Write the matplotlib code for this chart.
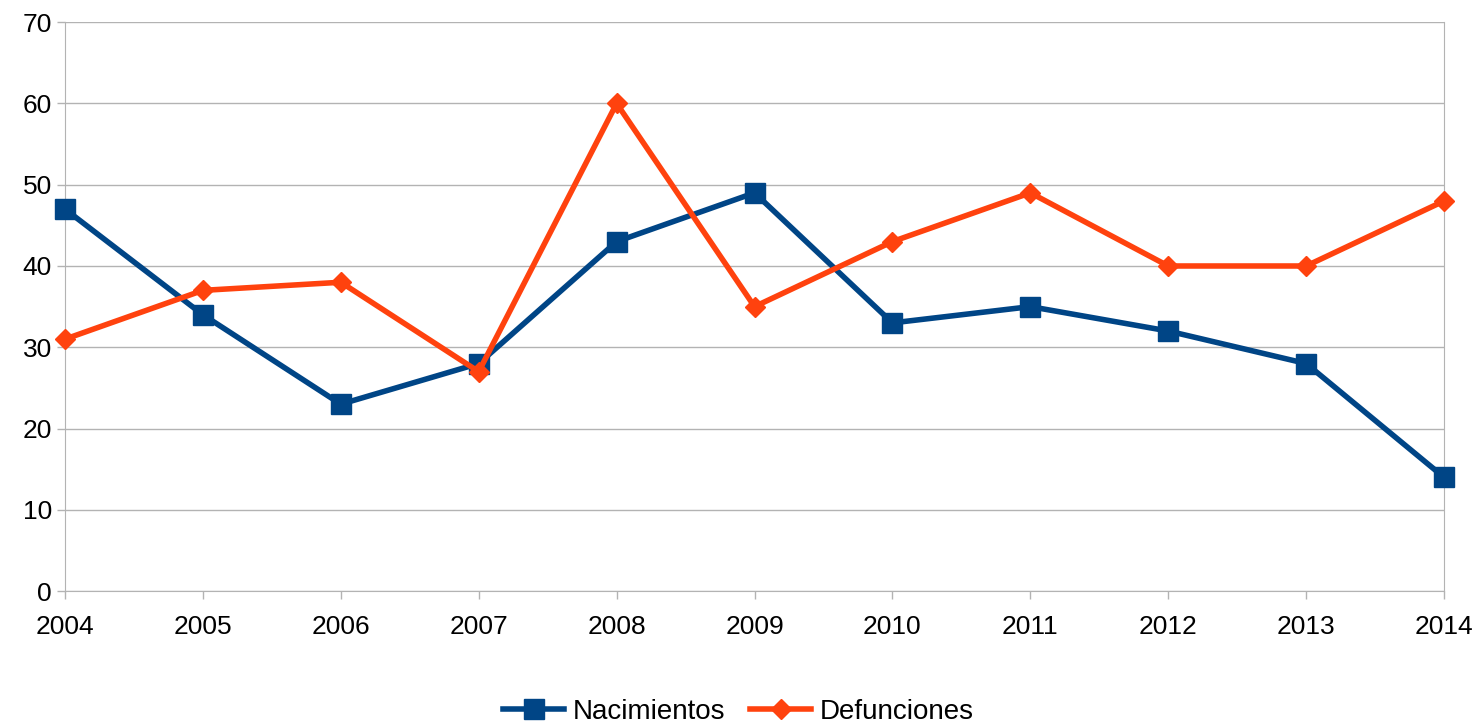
import matplotlib
matplotlib.use("Agg")
import matplotlib.pyplot as plt

years = [2004, 2005, 2006, 2007, 2008, 2009, 2010, 2011, 2012, 2013, 2014]
nacimientos = [47, 34, 23, 28, 43, 49, 33, 35, 32, 28, 14]
defunciones = [31, 37, 38, 27, 60, 35, 43, 49, 40, 40, 48]

plt.rcParams["font.family"] = ["Liberation Sans", "DejaVu Sans"]

fig = plt.figure(figsize=(14.77, 7.28), dpi=100)
ax = fig.add_axes([0.044, 0.188, 0.9337, 0.7816])

ax.plot(years, nacimientos, color="#004586", linewidth=4, marker="s",
        markersize=14, label="Nacimientos", zorder=3, clip_on=False)
ax.plot(years, defunciones, color="#ff420e", linewidth=4, marker="D",
        markersize=10, label="Defunciones", zorder=4, clip_on=False)

ax.set_xlim(years[0], years[-1])
ax.set_ylim(0, 70)
ax.set_xticks(years)
ax.set_yticks(range(0, 71, 10))
ax.tick_params(labelsize=19, colors="#b3b3b3", labelcolor="black", length=6, width=1)
ax.tick_params(axis="x", pad=11)
ax.grid(axis="y", color="#b3b3b3", linewidth=1)
ax.set_axisbelow(True)
for side in ["left", "right", "bottom"]:
    ax.spines[side].set_color("#b3b3b3")
ax.spines["top"].set_visible(False)

fig.legend(loc="lower center", bbox_to_anchor=(0.5, -0.03), ncol=2, frameon=False,
           fontsize=20, handlelength=2.2, columnspacing=0.9, handletextpad=0.3)

fig.savefig("out.png", dpi=100)
